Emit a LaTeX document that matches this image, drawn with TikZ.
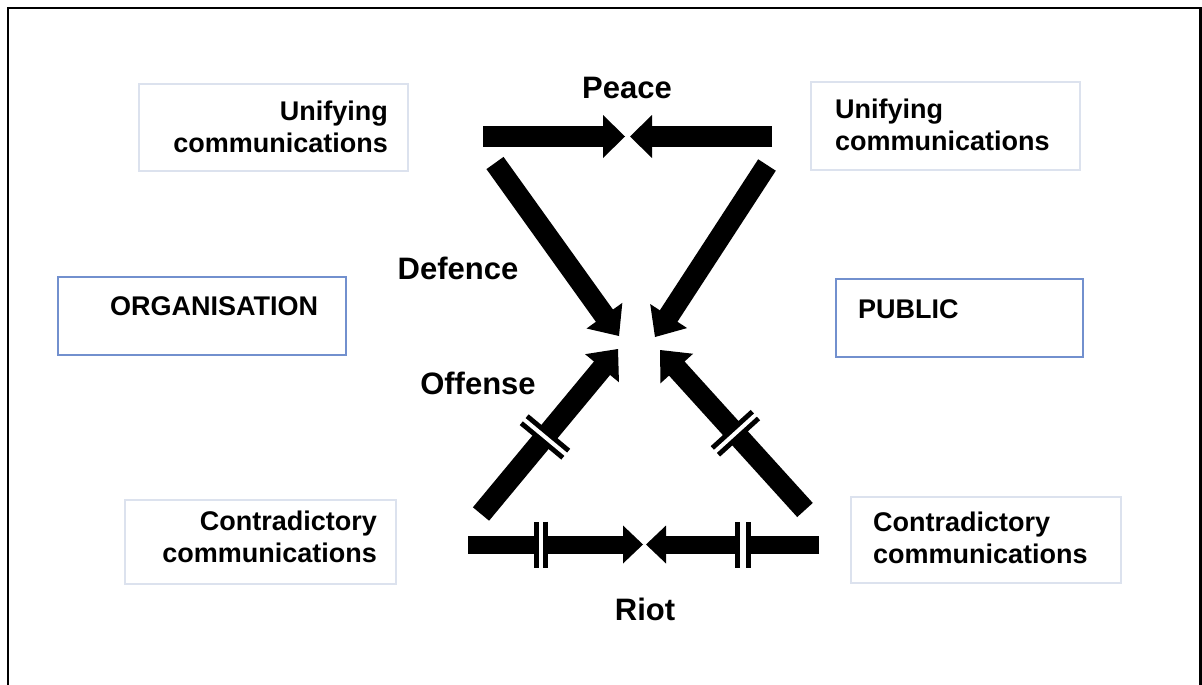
\documentclass[tikz,border=0pt]{standalone}
\usepackage{fontspec}
\setmainfont{Liberation Sans}
\usetikzlibrary{calc}
\definecolor{lightframe}{HTML}{DCE2EE}
\definecolor{blueframe}{HTML}{7290CE}
\tikzset{
  boxtxt/.style={font=\fontsize{27}{32}\selectfont\bfseries, inner sep=0pt},
  lbl/.style={font=\fontsize{31}{36}\selectfont\bfseries, inner sep=0pt},
  lightbox/.style={draw=lightframe, line width=1.3pt, inner sep=0pt},
  bluebox/.style={draw=blueframe, line width=1.3pt, inner sep=0pt},
}
% #1 start, #2 tip, #3 shaft width, #4 head length, #5 head half width
\newcommand\fatarrow[5]{%
  \draw[line width=#3pt] (#1) -- ($(#2)!#4pt-1pt!(#1)$);
  \fill (#2) -- ($($(#2)!#4pt!(#1)$)!#5pt!90:(#2)$) -- ($($(#2)!#4pt!(#1)$)!#5pt!-90:(#2)$) -- cycle;
}
% #1 break point, #2 point ahead on shaft, #3 half length, #4 total thickness, #5 gap
\newcommand\brkmark[5]{%
  \draw[line width=#4pt] ($(#1)!#3pt!90:(#2)$) -- ($(#1)!#3pt!-90:(#2)$);
  \draw[white, line width=#5pt] ($(#1)!#3pt+2pt!90:(#2)$) -- ($(#1)!#3pt+2pt!-90:(#2)$);
}
\begin{document}
\begin{tikzpicture}[x=1pt, y=-1pt]
\useasboundingbox (0,0) rectangle (1202,685);
% outer frame
\draw[line width=2.5pt] (8,690) -- (8,8) -- (1200.5,8) -- (1200.5,690);

% boxes
\node[lightbox, minimum width=269pt, minimum height=87pt] (ubl) at (273.5,127.5) {};
\node[lightbox, minimum width=269pt, minimum height=88pt] (ubr) at (945.5,126) {};
\node[bluebox, minimum width=288pt, minimum height=78pt] (org) at (202,316) {};
\node[bluebox, minimum width=247pt, minimum height=78pt] (pub) at (959.5,318) {};
\node[lightbox, minimum width=271pt, minimum height=84pt] (cbl) at (260.5,542) {};
\node[lightbox, minimum width=270pt, minimum height=86pt] (cbr) at (986,540) {};

% box texts
\node[boxtxt, anchor=base east] (ubl1) at (388,120) {Unifying};
\node[boxtxt, anchor=base east] (ubl2) at (388,152) {communications};
\node[boxtxt, anchor=base west] (ubr1) at (835,118) {Unifying};
\node[boxtxt, anchor=base west] (ubr2) at (835,150) {communications};
\node[boxtxt, anchor=base west] (orgt) at (110,315) {ORGANISATION};
\node[boxtxt, anchor=base west] (pubt) at (858,318) {PUBLIC};
\node[boxtxt, anchor=base east] (cbl1) at (377,530) {Contradictory};
\node[boxtxt, anchor=base east] (cbl2) at (377,562) {communications};
\node[boxtxt, anchor=base west] (cbr1) at (873,531) {Contradictory};
\node[boxtxt, anchor=base west] (cbr2) at (873,563) {communications};

% labels
\node[lbl, anchor=base] (peace) at (627,98) {Peace};
\node[lbl, anchor=base] (defence) at (458,279) {Defence};
\node[lbl, anchor=base] (offense) at (478,394) {Offense};
\node[lbl, anchor=base] (riot) at (645,620) {Riot};

% arrow coordinates
\coordinate (tlA) at (483,136.5);
\coordinate (tlB) at (625,136.5);
\coordinate (trA) at (772,136.5);
\coordinate (trB) at (630,136.5);
\coordinate (dlA) at (495,163);
\coordinate (dlB) at (619,336);
\coordinate (drA) at (767,165);
\coordinate (drB) at (655,337);
\coordinate (ulA) at (481,514);
\coordinate (ulB) at (618,349);
\coordinate (urA) at (805,510);
\coordinate (urB) at (660,350);
\coordinate (blA) at (468,544.5);
\coordinate (blB) at (643,544.5);
\coordinate (brA) at (819,544.5);
\coordinate (brB) at (646,544.5);

% top arrows (peace)
\fatarrow{tlA}{tlB}{21}{22}{21.5}
\fatarrow{trA}{trB}{21}{22}{21.5}
% defence diagonals
\fatarrow{dlA}{dlB}{21}{25}{22}
\fatarrow{drA}{drB}{21}{25}{22}
% offense diagonals
\fatarrow{ulA}{ulB}{21}{25}{22}
\fatarrow{urA}{urB}{21}{25}{22}
% riot arrows
\fatarrow{blA}{blB}{18}{20}{19}
\fatarrow{brA}{brB}{18}{20}{19}

% break marks
\coordinate (ulM) at ($(ulA)!0.467!(ulB)$);
\coordinate (urM) at ($(urA)!0.48!(urB)$);
\coordinate (blM) at (541,544.5);
\coordinate (brM) at (743,544.5);
\brkmark{ulM}{ulB}{27}{14}{4}
\brkmark{urM}{urB}{27}{14}{4}
\brkmark{blM}{blB}{23}{14}{4}
\brkmark{brM}{brB}{23}{16}{6}
\end{tikzpicture}
\end{document}
